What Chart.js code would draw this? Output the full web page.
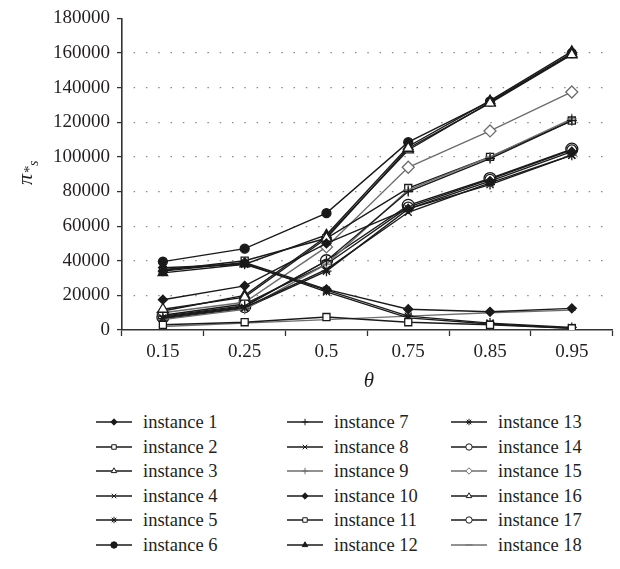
<!DOCTYPE html>
<html><head><meta charset="utf-8">
<script src="https://cdn.jsdelivr.net/npm/chart.js@4/dist/chart.umd.min.js"></script>
<style>
html,body{margin:0;padding:0;background:#fff;}
#wrap{position:relative;width:620px;height:569px;overflow:hidden;}
#c{position:absolute;left:0;top:0;}
.lgi{position:absolute;height:20px;}
.lgi canvas{position:absolute;left:0;top:3px;}
.lgi span{position:absolute;top:0;font-family:"Liberation Serif",serif;font-size:18.5px;line-height:20px;color:#231f20;white-space:nowrap;}
</style></head><body>
<div id="wrap"><canvas id="c" width="620" height="400"></canvas><div id="legend"></div></div>
<script>
// ---- data ----
const categories = ['0.15', '0.25', '0.5', '0.75', '0.85', '0.95'];
const yTickLabels = ['0', '20000', '40000', '60000', '80000', '100000', '120000', '140000', '160000', '180000'];
const instance1  = [17500, 25500, 50000, 70000, 86000, 103000];
const instance2  = [3000, 4500, 7500, 4500, 3000, 1000];
const instance3  = [12000, 19000, 53000, 105000, 131000, 159000];
const instance4  = [7000, 13000, 35000, 68000, 85000, 101000];
const instance5  = [36000, 38000, 23000, 8000, 4000, 1500];
const instance6  = [39500, 47000, 67500, 108500, 132000, 160000];
const instance7  = [8000, 14000, 40000, 80000, 99000, 121000];
const instance8  = [35000, 38500, 22000, 7000, 3500, 1000];
const instance9  = [6000, 12000, 38000, 81000, 100000, 122000];
const instance10 = [34000, 39000, 23500, 12000, 10500, 12500];
const instance11 = [34500, 40000, 53000, 82000, 100000, 121000];
const instance12 = [33000, 38000, 55000, 106000, 132500, 161000];
const instance13 = [6500, 12500, 34000, 70000, 84000, 101000];
const instance14 = [8500, 15000, 38000, 71000, 87000, 104000];
const instance15 = [10000, 16000, 48000, 94000, 115000, 137500];
const instance16 = [11000, 20000, 54000, 104000, 131500, 159500];
const instance17 = [7500, 13500, 40000, 72000, 87500, 104500];
const instance18 = [2000, 4000, 6000, 8000, 10000, 11500];
const seriesNames = ['instance 1','instance 2','instance 3','instance 4','instance 5','instance 6',
  'instance 7','instance 8','instance 9','instance 10','instance 11','instance 12',
  'instance 13','instance 14','instance 15','instance 16','instance 17','instance 18'];
const seriesValues = [instance1, instance2, instance3, instance4, instance5, instance6,
  instance7, instance8, instance9, instance10, instance11, instance12,
  instance13, instance14, instance15, instance16, instance17, instance18];

// ---- styles ----
const DK = '#1a1a1a', GR = '#6e6e6e';
const looks = [
  {ps:'rectRot', fill:DK, r:4.5, c:DK},
  {ps:'rect', fill:'#fff', r:5, c:DK},
  {ps:'triangle', fill:'#fff', r:6, c:DK},
  {ps:'crossRot', fill:DK, r:5, c:DK},
  {ps:'star', fill:DK, r:5, c:DK},
  {ps:'circle', fill:DK, r:4.5, c:DK},
  {ps:'cross', fill:DK, r:5, c:DK},
  {ps:'crossRot', fill:DK, r:5, c:DK},
  {ps:'cross', fill:GR, r:5, c:GR},
  {ps:'rectRot', fill:DK, r:4.5, c:DK},
  {ps:'rect', fill:'#fff', r:5, c:DK},
  {ps:'triangle', fill:DK, r:5.5, c:DK},
  {ps:'star', fill:DK, r:5, c:DK},
  {ps:'circle', fill:'#fff', r:5, c:DK},
  {ps:'rectRot', fill:'#fff', r:6, c:GR},
  {ps:'triangle', fill:'#fff', r:6, c:DK},
  {ps:'circle', fill:'#fff', r:6, c:DK},
  {ps:'line', fill:GR, r:4, c:GR}
];

const datasets = seriesValues.map((vals, i) => ({
  label: seriesNames[i],
  data: vals,
  borderColor: looks[i].c,
  backgroundColor: looks[i].fill,
  borderWidth: 1.4,
  pointStyle: looks[i].ps,
  pointRadius: looks[i].r,
  pointHoverRadius: looks[i].r,
  pointBackgroundColor: looks[i].fill,
  pointBorderColor: looks[i].c,
  pointBorderWidth: 1.3,
  tension: 0,
  fill: false
}));

const titlesPlugin = {
  id: 'titles',
  afterDraw(chart) {
    const ctx = chart.ctx;
    ctx.save();
    ctx.fillStyle = '#231f20';
    // x title
    ctx.font = 'italic 21px "Liberation Serif", serif';
    ctx.textAlign = 'center';
    ctx.textBaseline = 'middle';
    ctx.fillText('θ', 369, 381);
    // y title  π*_s
    ctx.translate(32, 185);
    ctx.rotate(-Math.PI / 2);
    ctx.textAlign = 'left';
    ctx.textBaseline = 'alphabetic';
    ctx.font = 'italic 22px "Liberation Serif", serif';
    ctx.fillText('π', 0, 0);
    ctx.font = '15px "Liberation Serif", serif';
    ctx.fillText('*', 12, 2);
    ctx.font = 'italic 14px "Liberation Serif", serif';
    ctx.fillText('s', 19, 6);
    ctx.restore();
  }
};

const tickFont = {family: '"Liberation Serif", serif', size: 19};
const chart = new Chart(document.getElementById('c'), {
  type: 'line',
  data: {labels: categories, datasets},
  plugins: [titlesPlugin],
  options: {
    responsive: false,
    animation: false,
    devicePixelRatio: 1,
    layout: {padding: {left: 0, right: 7, top: 17, bottom: 0}},
    plugins: {legend: {display: false}, tooltip: {enabled: false}},
    scales: {
      x: {
        type: 'category',
        offset: true,
        grid: {display: true, offset: true, drawOnChartArea: false, drawTicks: true, tickLength: 6, tickColor: '#333', tickWidth: 1.3},
        border: {display: true, color: '#333', width: 1.6},
        ticks: {color: '#231f20', font: tickFont, padding: 5, maxRotation: 0},
        afterFit(s) { s.height = 70; }
      },
      y: {
        min: 0, max: 180000,
        afterBuildTicks(s) { s.ticks = yTickLabels.map(t => ({value: Number(t)})); },
        grid: {
          display: true, drawOnChartArea: true, drawTicks: true, tickLength: 5,
          color: (c) => (c.tick && (c.tick.value === 0 || c.tick.value === 180000)) ? 'rgba(0,0,0,0)' : '#8a8a8a',
          lineWidth: 1.2, tickColor: '#333', tickWidth: 1.3
        },
        border: {display: true, color: '#333', width: 1.6, dash: [1.5, 10.8], dashOffset: -11},
        ticks: {color: '#231f20', font: tickFont, padding: 7, callback: (v) => yTickLabels[yTickLabels.indexOf(String(v))]},
        afterFit(s) { s.width = 122; }
      }
    }
  }
});

// ---- legend (HTML, 3 columns) ----
const legend = document.getElementById('legend');
const colLine = [96, 287, 451];
const colText = [143, 334, 498];
const rowY = [422, 446.5, 471, 495.5, 520, 544.5];
seriesNames.forEach((name, i) => {
  const col = Math.floor(i / 6), row = i % 6;
  const item = document.createElement('div');
  item.className = 'lgi';
  item.style.left = colLine[col] + 'px';
  item.style.top = (rowY[row] - 10) + 'px';
  const cv = document.createElement('canvas');
  cv.width = 36; cv.height = 14;
  const g = cv.getContext('2d');
  g.strokeStyle = looks[i].c; g.lineWidth = 1.3;
  g.beginPath(); g.moveTo(0, 7); g.lineTo(36, 7); g.stroke();
  g.fillStyle = looks[i].fill; g.strokeStyle = looks[i].c; g.lineWidth = 1;
  Chart.helpers.drawPoint(g, {pointStyle: looks[i].ps, radius: looks[i].ps === 'line' ? 3.5 : 3.2, borderWidth: 1, rotation: 0}, 18, 7);
  item.appendChild(cv);
  const sp = document.createElement('span');
  sp.textContent = name;
  sp.style.left = (colText[col] - colLine[col]) + 'px';
  item.appendChild(sp);
  legend.appendChild(item);
});
</script>
</body></html>
